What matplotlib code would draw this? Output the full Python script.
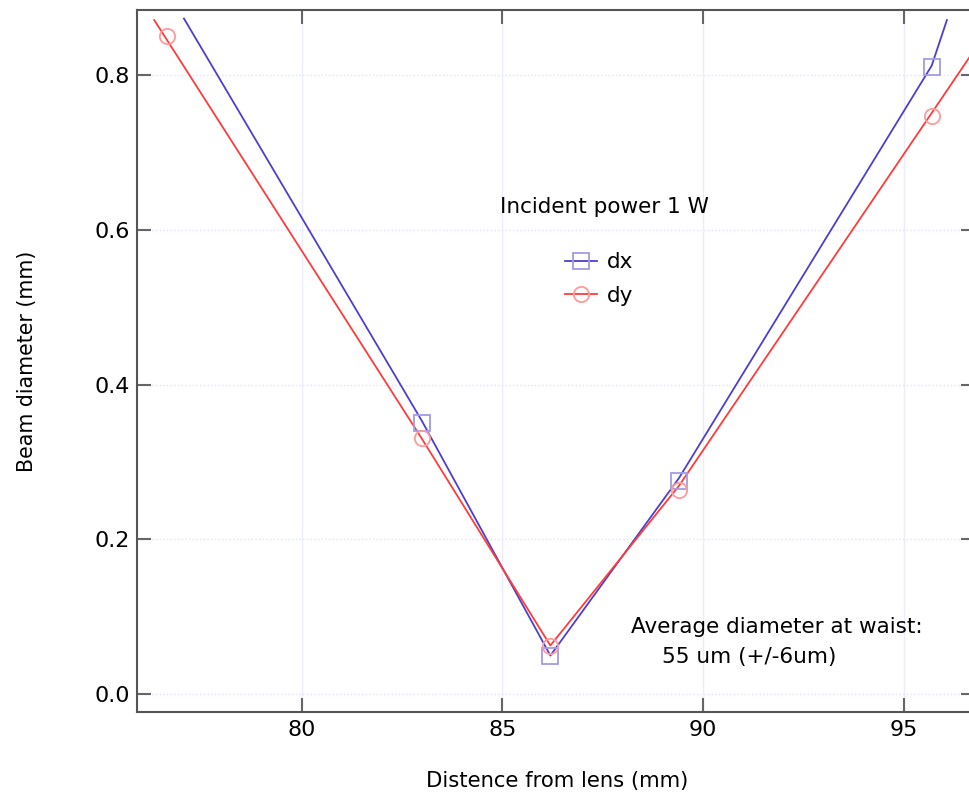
import matplotlib
matplotlib.use("Agg")
import matplotlib.pyplot as plt

# measured beam diameters (mm) at distance from lens (mm)
dx_pos = [83.0, 86.2, 89.4, 95.7]
dx_val = [0.351, 0.050, 0.276, 0.810]
dy_pos = [76.65, 83.0, 86.2, 89.4, 95.7]
dy_val = [0.850, 0.331, 0.062, 0.264, 0.747]

# fitted curves
dx_fit_pos = [77.07, 83.0, 86.2, 89.4, 95.7, 96.08]
dx_fit_val = [0.873, 0.353, 0.050, 0.279, 0.812, 0.871]
dy_fit_pos = [76.33, 83.0, 86.2, 89.4, 96.8]
dy_fit_val = [0.871, 0.330, 0.063, 0.269, 0.835]

x_ticks = [80, 85, 90, 95]
y_ticks = [0.0, 0.2, 0.4, 0.6, 0.8]

plt.rcParams["font.family"] = "DejaVu Sans"

fig = plt.figure(figsize=(9.69, 7.93), dpi=100)
ax = fig.add_axes([137 / 969, 1 - 712 / 793, (975 - 137) / 969, (712 - 10) / 793])

blue = "#4d3fcc"
red = "#ff3b3b"

ax.plot(dx_fit_pos, dx_fit_val, color=blue, lw=1.3, zorder=3)
ax.plot(dy_fit_pos, dy_fit_val, color=red, lw=1.3, zorder=3)
ax.plot(dx_pos, dx_val, ls="none", marker="s", ms=11, mfc="none",
        mec="#a09ce6", mew=1.3, zorder=4)
ax.plot(dy_pos, dy_val, ls="none", marker="o", ms=11, mfc="none",
        mec="#ff9a9a", mew=1.3, zorder=4)

# legend handles
h1, = ax.plot([], [], color=blue, lw=1.3, marker="s", ms=11, mfc="none",
              mec="#a09ce6", mew=1.3)
h2, = ax.plot([], [], color=red, lw=1.3, marker="o", ms=11, mfc="none",
              mec="#ff9a9a", mew=1.3)
ax.legend([h1, h2], ["dx", "dy"], loc="center",
          bbox_to_anchor=(0.551, 0.617), frameon=False, fontsize=15.5,
          handlelength=1.5, handletextpad=0.45, labelspacing=0.62)

ax.text(0.433, 0.719, "Incident power 1 W", transform=ax.transAxes,
        fontsize=15.5, va="center", ha="left")
ax.text(0.589, 0.121, "Average diameter at waist:", transform=ax.transAxes,
        fontsize=15.5, va="center", ha="left")
ax.text(0.627, 0.078, "55 um (+/-6um)", transform=ax.transAxes,
        fontsize=15.5, va="center", ha="left")

ax.set_xlim(75.9, 96.78)
ax.set_ylim(-0.0229, 0.884)
ax.set_xticks(x_ticks)
ax.set_yticks(y_ticks)
ax.set_yticklabels([f"{v:.1f}" for v in y_ticks])

for v in x_ticks:
    ax.axvline(v, color="#ececff", lw=1, zorder=0)
for v in y_ticks:
    ax.axhline(v, color="#e0e0ff", lw=1, ls=":", zorder=0)

ax.tick_params(direction="in", length=10, width=1.5, color="#666666",
               top=True, right=True, labelsize=16)
ax.tick_params(axis="x", pad=6)
ax.tick_params(axis="y", pad=5)
for s in ax.spines.values():
    s.set_color("#555555")
    s.set_linewidth(1.5)

ax.set_xlabel("Distence from lens (mm)", fontsize=15.2)
ax.set_ylabel("Beam diameter (mm)", fontsize=14.8)
ax.xaxis.set_label_coords(0.502, -0.084)
ax.yaxis.set_label_coords(-0.119, 0.5)

fig.savefig("out.png", dpi=100)
